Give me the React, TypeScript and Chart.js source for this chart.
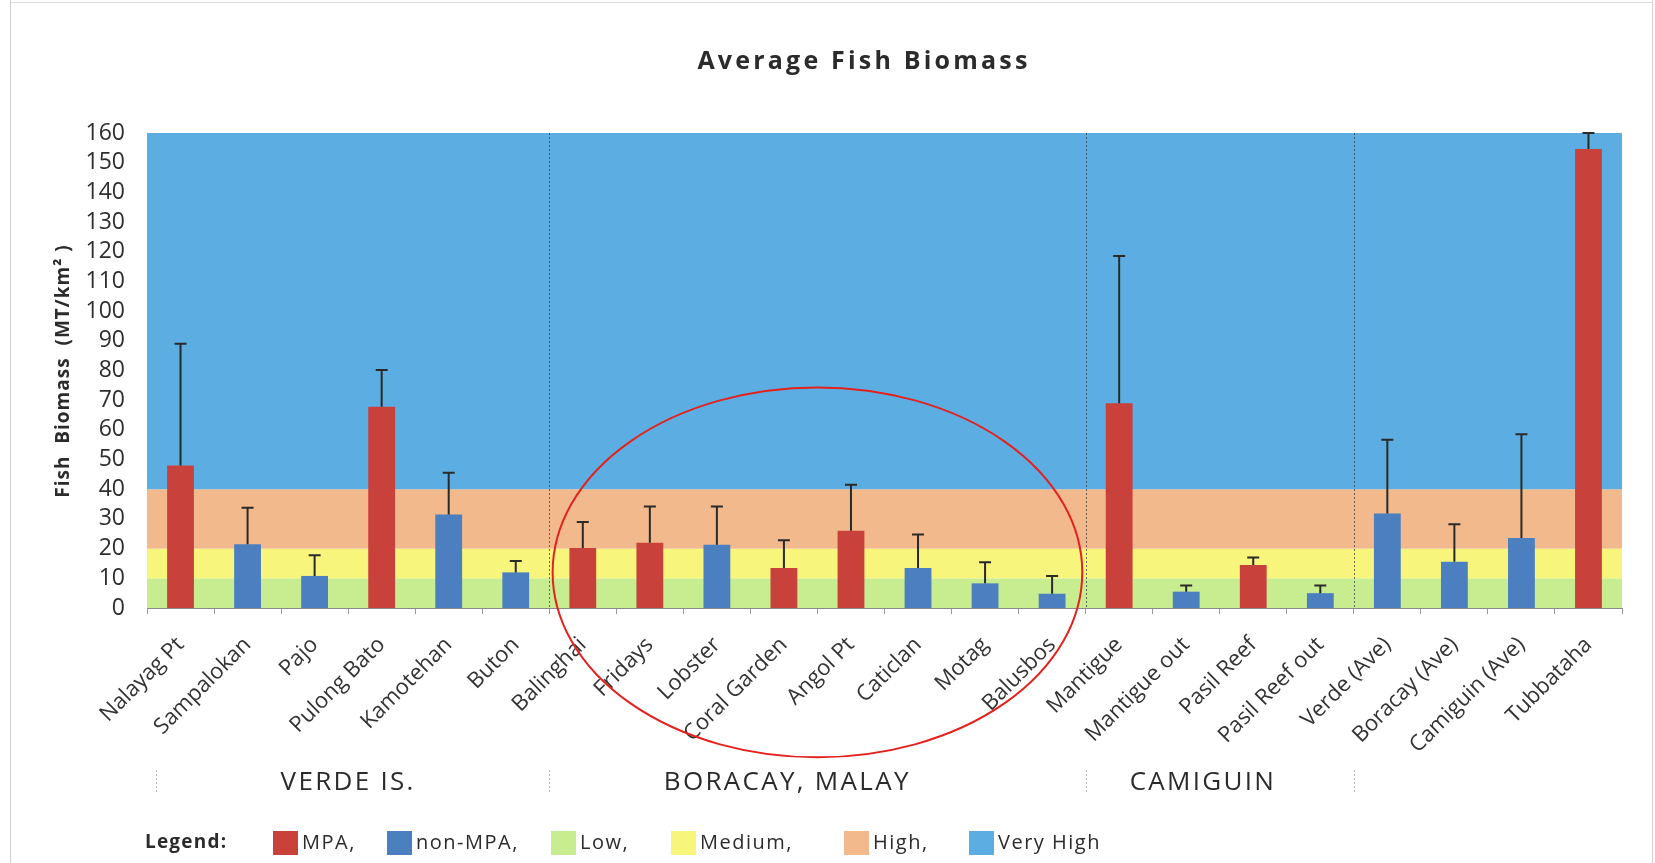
import { useEffect, useRef } from "react";
import { Chart, registerables } from "chart.js";

Chart.register(...registerables);

// ---------- data ----------
const categories = [
  "Nalayag Pt", "Sampalokan", "Pajo", "Pulong Bato", "Kamotehan", "Buton",
  "Balinghai", "Fridays", "Lobster", "Coral Garden", "Angol Pt", "Caticlan", "Motag", "Balusbos",
  "Mantigue", "Mantigue out", "Pasil Reef", "Pasil Reef out",
  "Verde (Ave)", "Boracay (Ave)", "Camiguin (Ave)", "Tubbataha",
];
const siteTypes = [
  "MPA", "non-MPA", "non-MPA", "MPA", "non-MPA", "non-MPA",
  "MPA", "MPA", "non-MPA", "MPA", "MPA", "non-MPA", "non-MPA", "non-MPA",
  "MPA", "non-MPA", "MPA", "non-MPA",
  "non-MPA", "non-MPA", "non-MPA", "MPA",
];
const biomass = [
  48, 21.5, 10.8, 67.8, 31.5, 12,
  20.2, 22, 21.3, 13.5, 26, 13.5, 8.3, 4.8,
  69, 5.5, 14.5, 5,
  31.8, 15.6, 23.6, 154.6,
];
const errorPlus = [
  41, 12.3, 7, 12.4, 14.1, 3.8,
  8.8, 12.2, 12.9, 9.3, 15.5, 11.3, 7.1, 6,
  49.6, 2.1, 2.5, 2.6,
  24.9, 12.6, 34.9, 5.4,
];
const bandNames = ["Low", "Medium", "High", "Very High"];
const bandLimits = [0, 10, 20, 40, 160];
const groupNames = ["VERDE IS.", "BORACAY, MALAY", "CAMIGUIN"];
const groupBounds = [0, 6, 14, 18];
const yMax = 160;
const yStep = 10;

// ---------- styles ----------
const TYPE_COLORS: Record<string, string> = { MPA: "#c9413b", "non-MPA": "#4b7fc0" };
const BAND_COLORS = ["#c8ec90", "#f8f57d", "#f1b98c", "#5caee2"];
const FONT = "'Open Sans', 'Noto Sans', sans-serif";
const TEXT = "#2b2b2b";

const overlay = {
  id: "overlay",
  beforeDraw(chart: any) {
    const { ctx, chartArea: ca, scales } = chart;
    const x = scales.x;
    const y = scales.y;
    ctx.save();
    for (let i = 0; i < bandNames.length; i++) {
      const top = y.getPixelForValue(bandLimits[i + 1]);
      const bot = y.getPixelForValue(bandLimits[i]);
      ctx.fillStyle = BAND_COLORS[i];
      ctx.fillRect(ca.left, top, ca.right - ca.left, bot - top);
    }
    // group separators inside the plot
    ctx.strokeStyle = "rgba(55,60,70,0.75)";
    ctx.lineWidth = 1;
    ctx.setLineDash([2, 2]);
    for (const b of groupBounds.slice(1)) {
      const px = Math.round(x.getPixelForValue(b - 0.5)) + 0.5;
      ctx.beginPath();
      ctx.moveTo(px, ca.top);
      ctx.lineTo(px, ca.bottom);
      ctx.stroke();
    }
    ctx.restore();
  },
  afterDatasetsDraw(chart: any) {
    const { ctx, scales } = chart;
    const x = scales.x;
    const y = scales.y;
    ctx.save();
    ctx.strokeStyle = "#2a2a2a";
    ctx.lineWidth = 2;
    for (let i = 0; i < biomass.length; i++) {
      const px = x.getPixelForValue(i);
      const yb = y.getPixelForValue(biomass[i]);
      const yt = y.getPixelForValue(Math.min(yMax, biomass[i] + errorPlus[i]));
      ctx.beginPath();
      ctx.moveTo(px, yb);
      ctx.lineTo(px, yt);
      ctx.moveTo(px - 6, yt);
      ctx.lineTo(px + 6, yt);
      ctx.stroke();
    }
    ctx.restore();
  },
  afterDraw(chart: any) {
    const { ctx, scales } = chart;
    const x = scales.x;
    const y = scales.y;
    ctx.save();
    ctx.fillStyle = TEXT;
    ctx.textBaseline = "middle";

    // title
    ctx.font = `bold 25px ${FONT}`;
    (ctx as any).letterSpacing = "3.2px";
    ctx.textAlign = "center";
    ctx.fillText("Average Fish Biomass", 864, 62);

    // y-axis title
    ctx.save();
    ctx.translate(64, 371);
    ctx.rotate(-Math.PI / 2);
    ctx.font = `bold 19px ${FONT}`;
    (ctx as any).letterSpacing = "1px";
    ctx.fillText("Fish  Biomass  (MT/km\u00B2 )", 0, 0);
    ctx.restore();

    // group labels
    const groupAnchors = [2.5, 9.05, 15.25];
    ctx.font = `26px ${FONT}`;
    (ctx as any).letterSpacing = "2.3px";
    ctx.textAlign = "center";
    groupNames.forEach((g, i) => {
      ctx.fillText(g, x.getPixelForValue(groupAnchors[i]), 783);
    });
    // group dividers under the labels
    ctx.strokeStyle = "#b8b8b8";
    ctx.lineWidth = 1;
    ctx.setLineDash([2, 2]);
    const divs = [groupBounds[0] + 0.13, ...groupBounds.slice(1)];
    divs.forEach((b) => {
      const px = Math.round(x.getPixelForValue(b - 0.5)) + 0.5;
      ctx.beginPath();
      ctx.moveTo(px, 770);
      ctx.lineTo(px, 794);
      ctx.stroke();
    });
    ctx.setLineDash([]);

    // legend
    const legendItems = [
      ...Object.keys(TYPE_COLORS).map((k) => ({ label: k + ",", color: TYPE_COLORS[k] })),
      ...bandNames.map((b, i) => ({ label: i < bandNames.length - 1 ? b + "," : b, color: BAND_COLORS[i] })),
    ];
    const legendX = [273, 387, 551, 671, 844, 969];
    const ly = 843;
    ctx.textAlign = "left";
    ctx.font = `bold 19px ${FONT}`;
    (ctx as any).letterSpacing = "1.2px";
    ctx.fillText("Legend:", 145, ly);
    ctx.font = `20px ${FONT}`;
    (ctx as any).letterSpacing = "1.5px";
    legendItems.forEach((it, i) => {
      ctx.fillStyle = it.color;
      ctx.fillRect(legendX[i], ly - 12, 25, 24);
      ctx.fillStyle = TEXT;
      ctx.fillText(it.label, legendX[i] + 29, ly);
    });

    // red ellipse annotation
    const cw = x.getPixelForValue(1) - x.getPixelForValue(0);
    const cx = x.getPixelForValue(9.5);
    const cy = y.getPixelForValue(12);
    const rx = 3.95 * cw;
    const ry = y.getPixelForValue(0) - y.getPixelForValue(62.3);
    ctx.strokeStyle = "#e5211d";
    ctx.lineWidth = 2;
    ctx.beginPath();
    ctx.ellipse(cx, cy, rx, ry, 0, 0, Math.PI * 2);
    ctx.stroke();
    ctx.restore();
  },
};

export default function App() {
  const ref = useRef<HTMLCanvasElement>(null);
  useEffect(() => {
    const chart = new Chart(ref.current as HTMLCanvasElement, {
      type: "bar",
      data: {
        labels: categories,
        datasets: [
          {
            label: "Fish Biomass",
            data: biomass,
            backgroundColor: siteTypes.map((t) => TYPE_COLORS[t]),
            borderWidth: 0,
            barPercentage: 0.4,
            categoryPercentage: 1,
          },
        ],
      },
      options: {
        animation: false,
        responsive: false,
        devicePixelRatio: 1,
        events: [],
        layout: { padding: { top: 133, right: 33, left: 0, bottom: 0 } },
        plugins: {
          legend: { display: false },
          title: { display: false },
          tooltip: { enabled: false },
        },
        scales: {
          x: {
            grid: { display: true, drawOnChartArea: false, offset: true, tickLength: 6, color: "#9a9a9a" },
            border: { display: true, color: "#8a8a8a", width: 1 },
            ticks: {
              autoSkip: false,
              minRotation: 45,
              maxRotation: 45,
              padding: 18,
              color: "#333",
              font: { family: FONT, size: 22 },
            },
            afterFit: (s: any) => {
              s.height = 863 - 608;
            },
          },
          y: {
            min: 0,
            max: yMax,
            grid: { display: false },
            border: { display: false },
            ticks: {
              stepSize: yStep,
              autoSkip: false,
              padding: 14,
              color: "#2e2e2e",
              font: { family: FONT, size: 23 },
            },
            afterFit: (s: any) => {
              s.width = 147;
            },
          },
        },
      },
      plugins: [overlay],
    });
    return () => chart.destroy();
  }, []);

  return (
    <div
      style={{
        position: "absolute",
        left: 0,
        top: 0,
        width: 1655,
        height: 863,
        background: "#fff",
        overflow: "hidden",
      }}
    >
      <canvas ref={ref} width={1655} height={863} style={{ display: "block" }} />
      <div style={{ position: "absolute", left: 10, top: 0, width: 1, height: 863, background: "#cfcfcf" }} />
      <div style={{ position: "absolute", left: 1652, top: 0, width: 1, height: 863, background: "#cfcfcf" }} />
      <div style={{ position: "absolute", left: 10, top: 2, width: 1643, height: 1, background: "#dcdcdc" }} />
    </div>
  );
}
